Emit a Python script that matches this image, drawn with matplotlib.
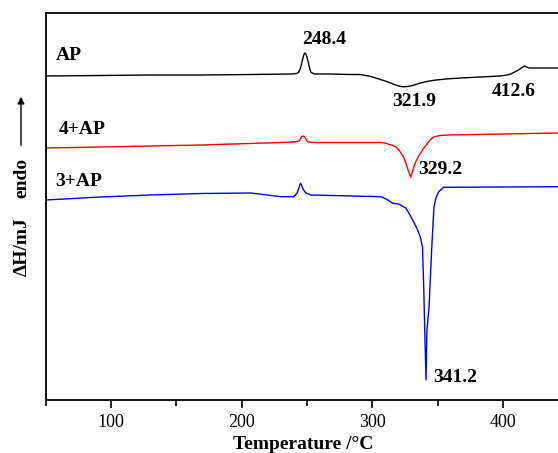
import matplotlib
matplotlib.use("Agg")
import matplotlib.pyplot as plt
from matplotlib.ticker import MultipleLocator

# Temperature (°C) and heat-flow signal (arbitrary units)
ap_T = [50, 92, 130, 169, 207, 238, 242, 243.5, 244.5, 245.3, 246, 246.8, 247.5, 248.4,
        249.2, 250, 250.8, 251.5, 252.2, 253, 254, 256, 268, 283, 291, 299, 305, 310,
        314, 318, 321, 323.5, 327, 331, 337, 343, 349, 358, 368, 383, 398, 403, 406,
        409, 412, 414.5, 416.5, 418, 420, 429, 445]
ap_s = [324, 324.5, 325, 325, 325.5, 326, 326.5, 327.5, 330, 333, 337, 341, 345, 347,
        346, 343, 339, 335, 331, 328, 327, 326, 326, 325.5, 325.5, 323.5, 321, 319,
        317, 315, 313.8, 313.2, 313.5, 314.5, 317, 318.8, 320, 321.2, 322, 323, 324,
        325, 326, 328, 330, 332.3, 334, 333, 332, 332, 332]

r_T = [50, 92, 169, 230, 240, 244, 245, 246, 247.5, 249, 250, 251, 256, 280, 306.5,
       309.5, 312, 315, 318, 321, 324, 326, 328, 329.5, 331, 332.5, 335.6, 339, 342.5,
       345, 347, 352, 358, 400, 445]
r_s = [252, 253, 255, 257.5, 258, 259, 261, 263.5, 264, 261.5, 259, 258, 257.5, 257.5,
       257.5, 257, 256, 254.8, 253.3, 249, 243, 236, 228, 223, 229, 236, 244, 251, 257,
       261, 263, 264.5, 265, 266, 267]

b_T = [50, 92, 130, 169, 207, 230, 240, 242.5, 243.8, 245, 246, 247, 249, 253, 306.5,
       309, 312, 315.7, 320.3, 325.7, 328, 331, 334.8, 336.8, 338.5, 339.5, 340.2, 341.2,
       341.9, 343.5, 345.5, 346.3, 347.3, 349, 351, 354.7, 400, 445]
b_s = [200, 203, 205, 206.5, 207, 203.3, 203.3, 207, 212, 216.7, 214.5, 211, 207.3, 205,
       203.3, 202, 200, 196.7, 196, 192, 187, 180, 170, 163, 153, 110, 70, 20, 70, 93,
       150, 170, 193.3, 203, 208.3, 212.7, 213, 213.3]

series_names = ["AP", "4+AP", "3+AP"]
peak_labels = ["248.4", "321.9", "412.6", "329.2", "341.2"]

serif = ["Liberation Serif", "DejaVu Serif"]

W, H = 558, 453
fig = plt.figure(figsize=(W / 100, H / 100), dpi=100)
ax = fig.add_axes([45.7 / W, 53 / H, 515.9 / W, 387 / H])

ax.plot(ap_T, ap_s, color="black", lw=1.0)
ax.plot(r_T, r_s, color="#ff0000", lw=1.0)
ax.plot(b_T, b_s, color="#0000ff", lw=1.0)

ax.set_xlim(50, 445)
ax.set_ylim(0, 387)
ax.yaxis.set_visible(False)
ax.xaxis.set_major_locator(MultipleLocator(100))
ax.xaxis.set_minor_locator(MultipleLocator(50))
ax.tick_params(axis="x", which="major", direction="out", length=6, width=1.2, pad=4,
               labelsize=13)
ax.tick_params(axis="x", which="minor", direction="out", length=4, width=1.2)
for lab in ax.get_xticklabels():
    lab.set_fontfamily(serif)
for sp in ax.spines.values():
    sp.set_linewidth(1.3)

ax.set_xlabel("Temperature /°C", fontsize=14, fontweight="bold", family=serif, labelpad=4)

def px(x, y):
    # figure-pixel position (from top-left) to figure fraction
    return x / W, 1 - y / H

tkw = dict(fontsize=14, fontweight="bold", family=serif, ha="center", va="center")
fig.text(*px(69, 55), series_names[0], **tkw)
fig.text(*px(82, 130), series_names[1], **tkw)
fig.text(*px(79, 182), series_names[2], **tkw)

fig.text(*px(324, 40), peak_labels[0], **tkw)
fig.text(*px(414, 101), peak_labels[1], **tkw)
fig.text(*px(514, 91), peak_labels[2], **tkw)
fig.text(*px(440, 170), peak_labels[3], **tkw)
fig.text(*px(455, 377), peak_labels[4], **tkw)

fig.text(*px(22, 247), "ΔH/mJ", rotation=90, **tkw)
fig.text(*px(22, 178), "endo", rotation=90, **tkw)
ax.annotate("", xy=px(21, 94), xytext=px(21, 148), xycoords="figure fraction",
            textcoords="figure fraction",
            arrowprops=dict(arrowstyle="-|>", color="black", lw=1.0, mutation_scale=10))

fig.savefig("out.png", dpi=100)
